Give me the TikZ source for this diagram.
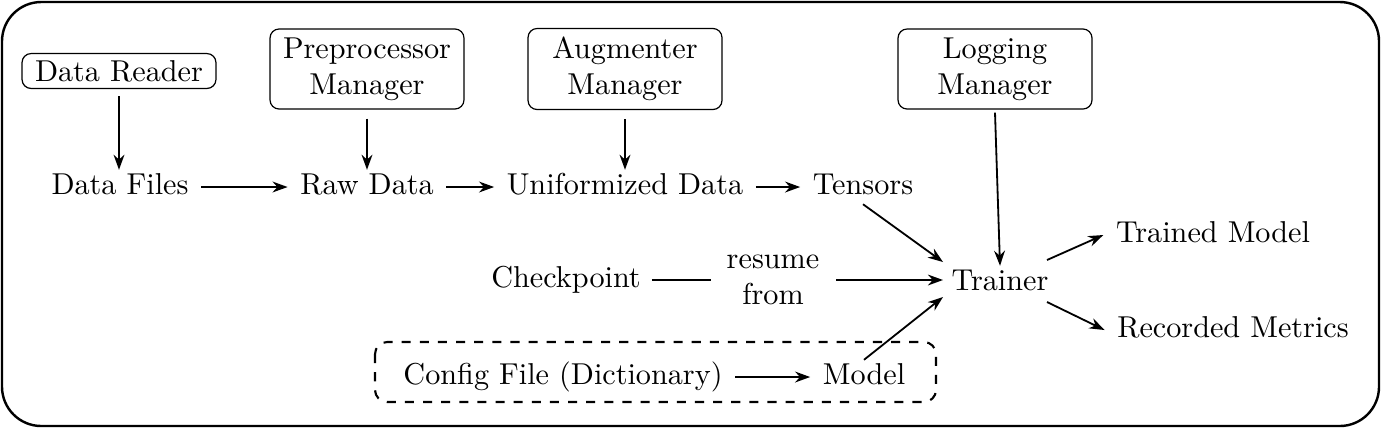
\documentclass[tikz,border=0pt]{standalone}
\usetikzlibrary{arrows.meta}
\begin{document}
\begin{tikzpicture}[x=0.331pt,y=-0.331pt,
  mgr/.style={draw,rounded corners=3pt,align=center,minimum width=64.2pt,inner ysep=2.8pt},
  lbl/.style={inner sep=1pt,text height=7pt,text depth=2pt},
  two/.style={inner sep=1pt,align=center},
  arr/.style={-{Stealth[length=5pt,width=3.6pt]},line width=0.6pt},
  con/.style={line width=0.6pt}]
\useasboundingbox (0,0) rectangle (1381,428);
\draw[line width=0.8pt,rounded corners=13pt] (2,2) rectangle (1379,426);
\draw[dashed,line width=0.7pt,rounded corners=4pt] (375,342) rectangle (936,402);

\node[mgr,inner ysep=2.2pt] (reader) at (119,71) {Data Reader};
\node[mgr] (prep) at (367,69) {Preprocessor\\Manager};
\node[mgr] (aug) at (625,69) {Augmenter\\Manager};
\node[mgr] (log) at (995,69) {Logging\\Manager};

\node[lbl] (files) at (120,187) {Data Files};
\node[lbl] (raw) at (367,187) {Raw Data};
\node[lbl] (uni) at (625,187) {Uniformized Data};
\node[lbl] (tens) at (863,187) {Tensors};
\node[lbl] (ckpt) at (566,280) {Checkpoint};
\node[two] (res) at (773,280) {resume\\from};
\node[lbl] (trainer) at (1000,283) {Trainer};
\node[lbl] (cfg) at (563,377) {Config File (Dictionary)};
\node[lbl] (model) at (864,377) {Model};
\node[lbl] (tm) at (1213,235) {Trained Model};
\node[lbl] (rm) at (1233,330) {Recorded Metrics};

\coordinate (t1) at (943,262);
\coordinate (t2) at (943,280);
\coordinate (t3) at (943,297);
\coordinate (r1) at (836,280);
\coordinate (m1) at (1047,260);
\coordinate (m2) at (1047,302);

\draw[arr] (reader.south) ++(0,7) coordinate (d0) -- (d0 |- files.north);
\draw[arr] ([yshift=-3pt]prep.south) -- (raw.north);
\draw[arr] ([yshift=-3pt]aug.south) -- (uni.north);
\draw[arr] ([yshift=-1pt]log.south) -- (trainer.north);
\draw[arr] ([xshift=3pt]files.east) -- ([xshift=-3pt]raw.west);
\draw[arr] ([xshift=3pt]raw.east) -- ([xshift=-3pt]uni.west);
\draw[arr] ([xshift=3pt]uni.east) -- ([xshift=-3pt]tens.west);
\draw[arr] (tens.south) -- (t1);
\draw[con] ([xshift=2.5pt]ckpt.east) -- ([xshift=-4pt]res.west |- ckpt.east);
\draw[arr] (r1) -- (t2);
\draw[arr] (model.north) -- (t3);
\draw[arr] ([xshift=3pt]cfg.east) -- ([xshift=-3pt]model.west);
\draw[arr] (m1) -- ([xshift=-3pt]tm.west);
\draw[arr] (m2) -- ([xshift=-3pt]rm.west);
\end{tikzpicture}
\end{document}
